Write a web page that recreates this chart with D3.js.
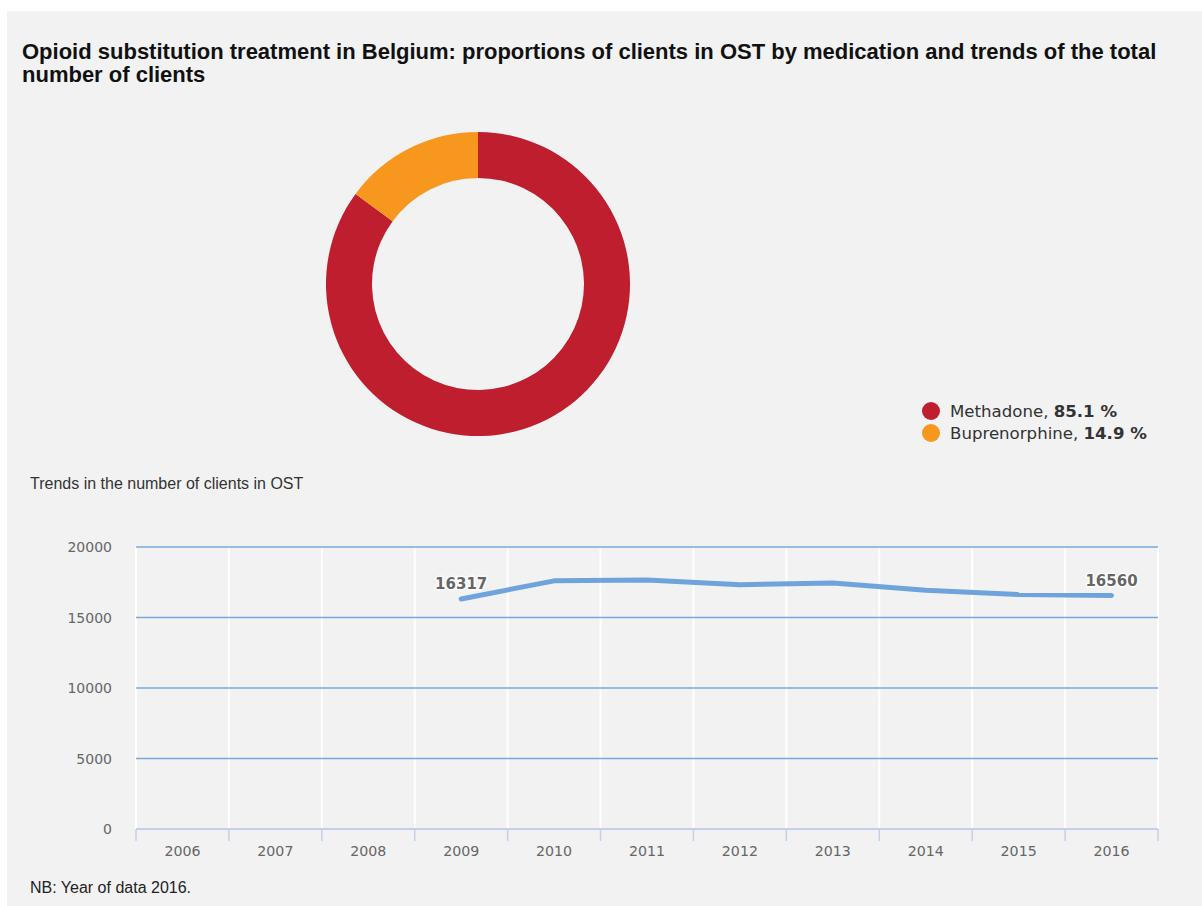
<!DOCTYPE html>
<html>
<head>
<meta charset="utf-8">
<script src="https://cdn.jsdelivr.net/npm/d3@7"></script>
<style>
  html, body { margin: 0; padding: 0; background: #ffffff; }
  svg { display: block; }
</style>
</head>
<body>
<svg id="chart" width="1202" height="906"></svg>
<script>
// Medication shares (percent of clients in OST)
const medications = ["Methadone", "Buprenorphine"];
const shares = [85.1, 14.9];
const medColors = ["#be1e2d", "#f7971e"];

// Total number of clients in OST by year
const years = ["2006", "2007", "2008", "2009", "2010", "2011", "2012", "2013", "2014", "2015", "2016"];
const clients = [null, null, null, 16317, 17600, 17660, 17330, 17450, 16930, 16630, 16560];
const yTicks = [0, 5000, 10000, 15000, 20000];

const titleLines = [
  "Opioid substitution treatment in Belgium: proportions of clients in OST by medication and trends of the total",
  "number of clients"
];

const svg = d3.select("#chart");

// panel background
svg.append("rect")
  .attr("x", 7).attr("y", 11)
  .attr("width", 1195).attr("height", 895)
  .attr("fill", "#f2f2f2");

// title
const title = svg.append("text")
  .attr("font-family", "'Liberation Sans', Arial, Helvetica, sans-serif")
  .attr("font-weight", "bold")
  .attr("font-size", 22)
  .attr("fill", "#111");
titleLines.forEach((t, i) => {
  title.append("tspan").attr("x", 22).attr("y", 59 + i * 23).text(t);
});

// ---- donut ----
const cx = 478, cy = 284;
const pie = d3.pie().sort(null).value(d => d)(shares);
const arc = d3.arc().innerRadius(106).outerRadius(152);
svg.append("g")
  .attr("transform", `translate(${cx},${cy})`)
  .selectAll("path")
  .data(pie)
  .join("path")
  .attr("d", arc)
  .attr("fill", (d, i) => medColors[i]);

// legend
const legend = svg.append("g");
medications.forEach((m, i) => {
  const y = 411 + i * 22;
  legend.append("circle")
    .attr("cx", 931).attr("cy", y).attr("r", 9)
    .attr("fill", medColors[i]);
  const t = legend.append("text")
    .attr("x", 950).attr("y", y + 6)
    .attr("font-family", "'DejaVu Sans', Verdana, sans-serif")
    .attr("font-size", 16.6)
    .attr("fill", "#333");
  t.append("tspan").text(m + ", ");
  t.append("tspan").attr("font-weight", "bold").text(d3.format(".1f")(shares[i]) + " %");
});

// ---- line chart ----
svg.append("text")
  .attr("x", 30).attr("y", 489)
  .attr("font-family", "'Liberation Sans', Arial, Helvetica, sans-serif")
  .attr("font-size", 16)
  .attr("fill", "#333")
  .text("Trends in the number of clients in OST");

const x0 = 136, x1 = 1158, yTop = 547, yBottom = 829;
const x = d3.scaleBand().domain(years).range([x0, x1]);
const y = d3.scaleLinear().domain([0, 20000]).range([yBottom, yTop]);

// vertical white gridlines at band boundaries
const bounds = years.map(d => x(d)).concat([x1]);
svg.append("g").selectAll("line")
  .data(bounds)
  .join("line")
  .attr("x1", d => d).attr("x2", d => d)
  .attr("y1", yTop).attr("y2", yBottom)
  .attr("stroke", "#ffffff").attr("stroke-width", 2);

// horizontal gridlines
svg.append("g").selectAll("line")
  .data(yTicks.filter(v => v > 0))
  .join("line")
  .attr("x1", x0).attr("x2", x1)
  .attr("y1", d => y(d)).attr("y2", d => y(d))
  .attr("stroke", "#7aa8dd").attr("stroke-width", 1.3);

// y axis labels
svg.append("g").selectAll("text")
  .data(yTicks)
  .join("text")
  .attr("x", 112).attr("y", d => y(d) + 5)
  .attr("text-anchor", "end")
  .attr("font-family", "'DejaVu Sans', Verdana, sans-serif")
  .attr("font-size", 14)
  .attr("fill", "#666")
  .text(d => d);

// x axis line and ticks
svg.append("line")
  .attr("x1", x0).attr("x2", x1)
  .attr("y1", yBottom).attr("y2", yBottom)
  .attr("stroke", "#c3d1e6").attr("stroke-width", 2);
svg.append("g").selectAll("line")
  .data(bounds)
  .join("line")
  .attr("x1", d => d).attr("x2", d => d)
  .attr("y1", yBottom).attr("y2", yBottom + 12)
  .attr("stroke", "#c3d1e6").attr("stroke-width", 1.5);

svg.append("g").selectAll("text")
  .data(years)
  .join("text")
  .attr("x", d => x(d) + x.bandwidth() / 2)
  .attr("y", 856)
  .attr("text-anchor", "middle")
  .attr("font-family", "'DejaVu Sans', Verdana, sans-serif")
  .attr("font-size", 14.2)
  .attr("fill", "#666")
  .text(d => d);

// series line
const pts = years.map((d, i) => ({ year: d, v: clients[i] })).filter(p => p.v != null);
const line = d3.line()
  .x(p => x(p.year) + x.bandwidth() / 2)
  .y(p => y(p.v));
svg.append("path")
  .datum(pts)
  .attr("d", line)
  .attr("fill", "none")
  .attr("stroke", "#6fa3dc")
  .attr("stroke-width", 5)
  .attr("stroke-linecap", "round")
  .attr("stroke-linejoin", "round");

// value labels at first and last points
const labelled = [pts[0], pts[pts.length - 1]];
svg.append("g").selectAll("text")
  .data(labelled)
  .join("text")
  .attr("x", p => x(p.year) + x.bandwidth() / 2)
  .attr("y", p => y(p.v) - 10)
  .attr("text-anchor", "middle")
  .attr("font-family", "'DejaVu Sans', Verdana, sans-serif")
  .attr("font-size", 15)
  .attr("font-weight", "bold")
  .attr("fill", "#666")
  .attr("stroke", "#ffffff")
  .attr("stroke-width", 3)
  .attr("paint-order", "stroke")
  .attr("stroke-linejoin", "round")
  .text(p => p.v);

// footnote
svg.append("text")
  .attr("x", 30).attr("y", 893)
  .attr("font-family", "'Liberation Sans', Arial, Helvetica, sans-serif")
  .attr("font-size", 16)
  .attr("fill", "#222")
  .text("NB: Year of data 2016.");
</script>
</body>
</html>
